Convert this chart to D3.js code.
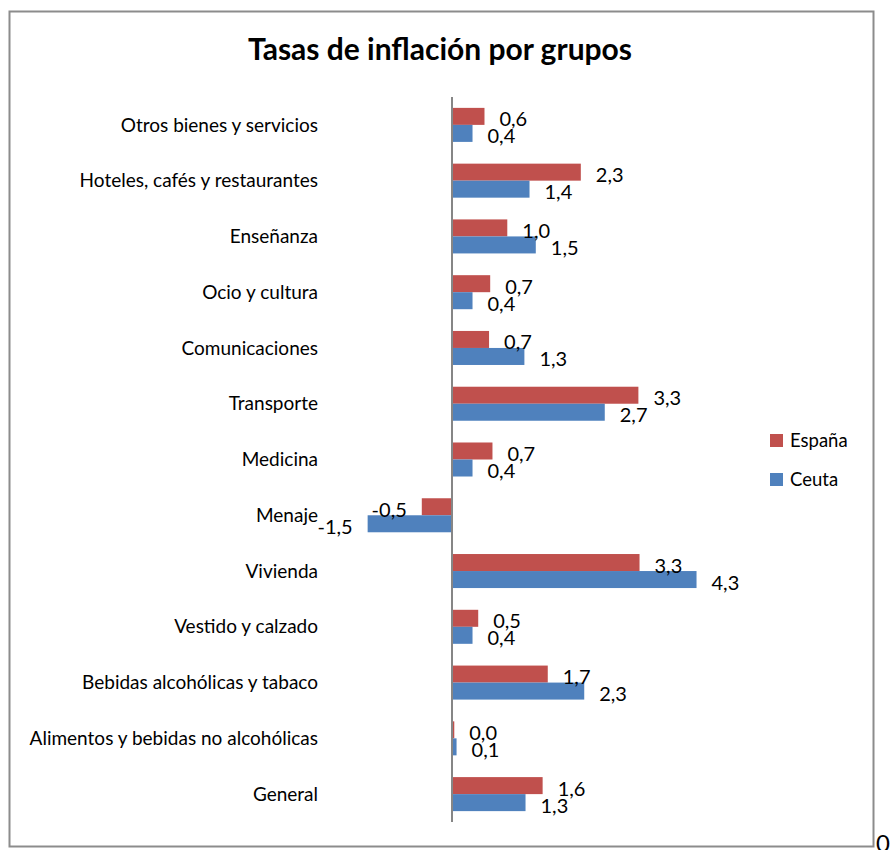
<!DOCTYPE html>
<html><head><meta charset="utf-8">
<script src="https://cdn.jsdelivr.net/npm/d3@7"></script>
<style>body{margin:0;background:#fff}svg{display:block}text{font-family:Lato,"Open Sans",sans-serif;fill:#000}</style>
</head><body><svg id="c" width="892" height="850"></svg>
<script>
const title = "Tasas de inflación por grupos";
const categories = ["Otros bienes y servicios","Hoteles, cafés y restaurantes","Enseñanza","Ocio y cultura","Comunicaciones","Transporte","Medicina","Menaje","Vivienda","Vestido y calzado","Bebidas alcohólicas y tabaco","Alimentos y bebidas no alcohólicas","General"];
const seriesNames = ["España","Ceuta"];
const espana = [0.57,2.26,0.97,0.67,0.65,3.27,0.71,-0.53,3.29,0.46,1.68,0.04,1.59];
const ceuta  = [0.36,1.36,1.47,0.36,1.27,2.68,0.36,-1.48,4.29,0.36,2.32,0.08,1.29];
const colors = ["#C0504D","#4F81BD"];

const svg = d3.select("#c");
svg.append("rect").attr("x",9.5).attr("y",11.5).attr("width",864).attr("height",835)
  .attr("fill","#fff").attr("stroke","#8c8c8c").attr("stroke-width",2);

svg.append("text").attr("x",440).attr("y",60).attr("text-anchor","middle")
  .attr("font-size",30).attr("font-weight","bold").text(title);

const x = d3.scaleLinear().domain([-2,5]).range([338,737]);
const y = d3.scaleBand().domain(categories).range([97,822]).paddingInner(0.39).paddingOuter(0.195);
const ys = d3.scaleBand().domain(seriesNames).range([0,y.bandwidth()]);
const fmt = v => d3.format(".1f")(v).replace(".",",").replace("−","-");

const data = [espana, ceuta];
data.forEach((vals, si) => {
  svg.append("g").selectAll("rect").data(categories).join("rect")
    .attr("x", (c,i) => x(Math.min(0, vals[i])))
    .attr("y", c => y(c) + ys(seriesNames[si]))
    .attr("width", (c,i) => Math.abs(x(vals[i]) - x(0)))
    .attr("height", ys.bandwidth())
    .attr("fill", colors[si]);
});
svg.append("line").attr("x1",x(0)).attr("x2",x(0)).attr("y1",97).attr("y2",822)
  .attr("stroke","#868686").attr("stroke-width",2);
data.forEach((vals, si) => {
  svg.append("g").selectAll("text").data(categories).join("text")
    .attr("x", (c,i) => vals[i] >= 0 ? x(vals[i]) + 15 : x(vals[i]) - 15)
    .attr("text-anchor", (c,i) => vals[i] >= 0 ? "start" : "end")
    .attr("y", c => y(c) + ys(seriesNames[si]) + ys.bandwidth()/2 + 3)
    .attr("dy","0.35em").attr("font-size",20)
    .text((c,i) => fmt(vals[i]));
});
svg.append("g").selectAll("text").data(categories).join("text")
  .attr("x",318).attr("y", c => y(c) + y.bandwidth()/2).attr("dy","0.35em")
  .attr("text-anchor","end").attr("font-size",19).text(c => c);
const lg = svg.append("g");
seriesNames.forEach((s,i) => {
  lg.append("rect").attr("x",770).attr("y",434 + i*39).attr("width",13).attr("height",13).attr("fill",colors[i]);
  lg.append("text").attr("x",790).attr("y",441 + i*39).attr("dy","0.35em").attr("font-size",18.5).text(s);
});
svg.append("text").attr("x",876).attr("y",852).attr("font-size",24).text("0");
</script></body></html>
